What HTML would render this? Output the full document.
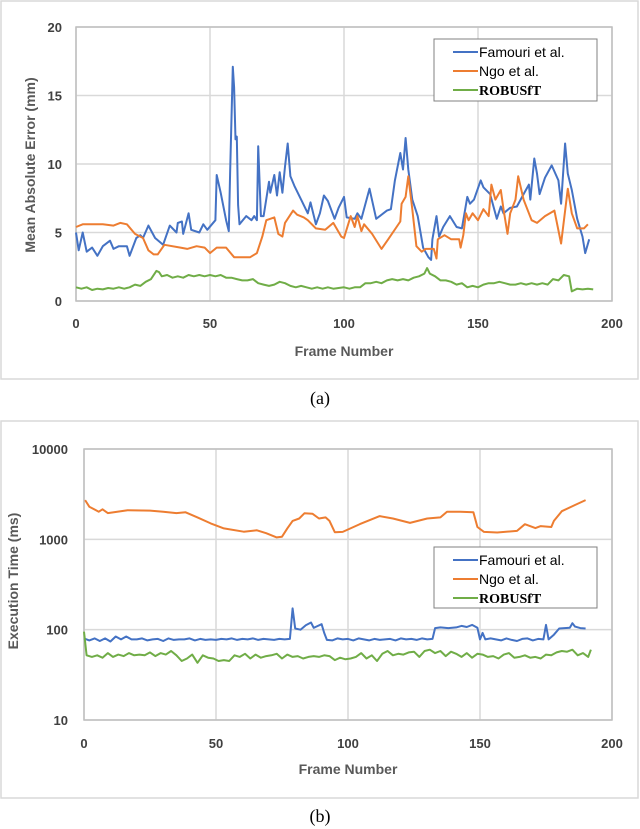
<!DOCTYPE html>
<html><head><meta charset="utf-8"><style>
html,body{margin:0;padding:0;background:#fff;}
svg{display:block;font-family:"Liberation Sans",sans-serif;}
.tk{font-size:13px;fill:#404040;font-weight:bold;}
.ttl{font-size:14px;fill:#595959;font-weight:bold;}
.lg{font-size:14px;fill:#000;}
.cap{font-family:"Liberation Serif",serif;font-size:18px;fill:#000;}
</style></head><body>
<svg id="c" width="640" height="829" viewBox="0 0 640 829" xmlns="http://www.w3.org/2000/svg">
<rect x="1" y="1" width="637" height="378" fill="#fff" stroke="#d9d9d9" stroke-width="1.5"/>
<rect x="1" y="421" width="637" height="377" fill="#fff" stroke="#d9d9d9" stroke-width="1.5"/>
<g id="ga"></g>
<g id="gb"></g>
<text x="30" y="170" class="ttl" text-anchor="middle" transform="rotate(-90 30 165)">Mean Absolute Error (mm)</text>
<text x="344" y="356" class="ttl" text-anchor="middle">Frame Number</text>
<text x="320" y="404" class="cap" text-anchor="middle">(a)</text>
<text x="22" y="585" class="ttl" text-anchor="middle" transform="rotate(-90 18 585)">Execution Time (ms)</text>
<text x="348" y="774" class="ttl" text-anchor="middle">Frame Number</text>
<text x="320" y="822" class="cap" text-anchor="middle">(b)</text>
</svg>
<script>
const seriesNames=["Famouri et al.","Ngo et al.","ROBUSfT"];
const colors=["#4472C4","#ED7D31","#70AD47"];
const aTicksY=[0,5,10,15,20];
const xTicks=[0,50,100,150,200];
const bTicksY=[10,100,1000,10000];
const aBlueX=[0,1,2.5,4,6,8,10,12.7,14,16,19,20,22.5,24,25,27,29.5,32.5,35,37.5,38,39.5,40,42,43,46,47.5,49,52,52.5,54,56,57,57.5,58.5,59,59.5,60,60.5,61,63.5,65.5,66.5,67.5,68,69,70,72,72.5,74,75,76,77,78,79,80,81.5,84,86.5,87.5,89.5,91,92.5,94,96.5,98,100,101,104,105,106.5,109.5,112,116,117.5,119,121,122,123,124,125.5,127.5,129.5,131.5,132.5,133,134.5,135.5,137,139.5,142,144,146,147,148.5,151,152,154.5,157,158.5,159.5,162,164.5,167,169,169.5,171,172,173,175,177.5,180,181,182.5,183.5,185,187,189,190,191.5];
const aBlueY=[5.0,3.7,5.0,3.6,3.9,3.3,4.0,4.4,3.8,4.0,4.0,3.3,4.6,4.8,4.6,5.5,4.6,4.1,5.5,5.0,5.7,5.8,4.9,6.4,5.2,5.0,5.6,5.2,5.9,9.2,7.9,5.9,5.1,9.3,17.1,15.6,11.8,12,7.0,5.6,6.2,5.9,6.2,5.9,11.3,6.2,6.2,8.7,7.9,9.2,7.7,9.4,7.9,9.8,11.5,9.1,8.4,7.4,6.4,7.2,5.6,6.4,7.7,7.3,6.0,6.8,7.6,6.1,6.0,6.4,6.0,8.2,6.0,6.6,6.7,8.8,10.8,9.6,11.9,9.6,7.4,6.2,3.9,3.2,3.0,4.5,6.2,4.7,5.4,6.2,5.4,5.3,7.6,7.1,7.4,8.8,8.3,7.8,6.0,6.9,6.4,6.8,6.9,7.8,8.5,7.4,10.4,9.3,7.8,9.0,9.9,8.8,7.1,11.5,9.3,8.1,6.0,4.7,3.5,4.5];
const aOrX=[0,2.5,10,14,16.5,19,22,25,27,29,30.5,33,39,41.5,45,48,50,52.5,56,59,65,67.5,69.5,71,74,75.5,77,78,81,82.5,85,86.5,89.5,93,96,99,100,102.5,104,105,106.5,107.5,110.5,114,116.5,121,121.5,123,124,125.5,127,129,130.5,133.5,134.5,135,137.5,140,143,143.5,144.5,145.5,146.5,148,150,152,154,155,156.5,158.5,159.5,161,162,164,165,167,170,172,175,178.5,181,183.5,185,187,189.5,191];
const aOrY=[5.4,5.6,5.6,5.5,5.7,5.6,4.9,4.6,3.7,3.4,3.4,4.1,3.9,3.8,4.0,3.9,3.5,3.9,3.9,3.2,3.2,3.5,4.7,5.9,6.1,4.9,4.7,5.7,6.6,6.3,6.1,5.9,5.3,5.2,5.7,4.7,4.6,6.2,5.4,6.2,5.1,5.6,4.9,3.8,4.5,5.8,7.1,7.6,9.1,6.7,4.0,3.6,3.8,3.8,3.1,4.5,4.8,4.5,4.5,3.9,4.8,6.4,5.9,6.4,5.9,6.7,6.2,8.5,7.4,8.1,6.7,4.9,6.4,7.4,9.1,7.4,5.9,5.7,6.2,6.6,4.2,8.2,6.4,5.3,5.3,5.6];
const aGrX=[0,2,4,6,8,10,12,14,16,18,20,22,24,26,28,30,31,32,34,36,38,40,42,44,46,48,50,52,54,56,58,60,62,64,66,68,70,72,74,76,78,80,82,84,86,88,90,92,94,96,98,100,102,104,106,108,110,112,114,116,118,120,122,124,126,128,130,131,132,134,136,138,140,142,144,146,148,150,152,154,156,158,160,162,164,166,168,170,172,174,176,178,180,182,184,185,187,189,191,193];
const aGrY=[1.0,0.9,1.0,0.8,0.9,0.85,0.95,0.9,1.0,0.9,1.0,1.2,1.1,1.4,1.6,2.2,2.1,1.8,1.9,1.7,1.8,1.7,1.9,1.8,1.9,1.8,1.9,1.8,1.9,1.7,1.7,1.6,1.5,1.5,1.6,1.3,1.2,1.1,1.2,1.4,1.3,1.1,1.0,1.1,1.0,0.9,1.0,0.9,1.0,0.9,0.95,1.0,0.9,1.0,1.0,1.3,1.3,1.4,1.3,1.5,1.6,1.5,1.6,1.5,1.7,1.8,2.0,2.4,2.0,1.8,1.5,1.5,1.4,1.2,1.3,1.0,1.1,1.0,1.2,1.3,1.3,1.4,1.3,1.2,1.2,1.3,1.2,1.3,1.2,1.3,1.2,1.6,1.5,1.9,1.8,0.7,0.9,0.85,0.9,0.85];
const bOrX=[0.4,2,5.6,7,9,16.5,25,30,35,38.5,43,48,53,60.5,65.5,69,73,75,77,79,81.5,83.5,86.5,89,91.5,93,95,98,104.5,112,117,123.5,130,135,137.5,142.5,147.5,149,151.5,156.5,164,167,171,173,177,178,181,186,190];
const bOrY=[2720,2300,2020,2150,1950,2100,2080,2020,1950,1990,1750,1500,1320,1215,1260,1170,1050,1070,1320,1600,1700,1940,1920,1700,1750,1600,1200,1210,1475,1810,1700,1520,1700,1750,2020,2020,1990,1370,1210,1190,1240,1470,1330,1400,1370,1600,2050,2400,2720];
const bBlX=[0,2,4,6,8,10,12,14,16,18,20,22,24,26,28,30,32,34,36,38,40,42,44,46,48,50,52,54,56,58,60,62,64,66,68,70,72,74,76,78,79,80,82,84,86,87,88,90,91,92,94,96,98,100,102,104,106,108,110,112,114,116,118,120,122,124,126,128,130,132,133,135,138,141,143,145,147,149,150,151,152,154,156,158,160,162,164,166,168,170,172,174,175,176,178,180,182,184,185,186,188,190];
const bBlY=[80,76,80,75,80,74,84,78,84,78,78,80,76,78,79,75,80,77,78,78,80,76,79,77,78,77,79,78,80,77,79,78,80,77,79,78,77,79,78,79,172,103,100,112,120,105,108,115,92,77,76,80,78,79,76,80,78,76,79,77,78,79,76,80,78,79,77,80,78,79,104,106,104,106,110,107,113,105,78,92,78,80,78,76,80,77,75,79,80,76,79,78,113,78,88,103,104,105,118,108,104,103];
const bGrX=[0,1,3,5,7,9,11,13,15,17,19,21,23,25,27,29,31,33,35,37,39,41,43,45,47,49,51,53,55,57,59,61,63,65,67,69,71,73,75,77,79,81,83,85,87,89,91,93,95,97,99,101,103,105,107,109,111,113,115,117,119,121,123,125,127,129,131,133,135,137,139,141,143,145,147,149,151,153,155,157,159,161,163,165,167,169,171,173,175,177,179,181,183,185,187,189,191,192];
const bGrY=[95,52,50,52,49,55,50,53,51,55,52,53,52,56,51,55,53,58,52,45,48,53,43,52,49,48,45,46,45,52,50,54,48,53,49,51,52,54,48,53,50,51,48,50,51,50,52,51,46,49,47,48,50,55,48,52,45,54,58,52,54,53,56,57,50,58,60,55,58,51,57,54,50,55,49,54,53,50,51,48,53,55,49,50,52,49,50,48,53,52,56,58,57,60,52,55,50,60];

const NS="http://www.w3.org/2000/svg";
function mk(tag,attrs,parent,text){const e=document.createElementNS(NS,tag);for(const k in attrs)e.setAttribute(k,attrs[k]);if(text!==undefined)e.textContent=text;parent.appendChild(e);return e;}
// chart a scales
const A={l:76,r:612,t:27,b:301};
const axA=f=>A.l+(f/200)*(A.r-A.l);
const ayA=v=>A.b-(v/20)*(A.b-A.t);
const B={l:84,r:612,t:449,b:720};
const axB=f=>B.l+(f/200)*(B.r-B.l);
const ayB=v=>B.b-((Math.log10(v)-1)/3)*(B.b-B.t);

function drawChart(g,P,ax,ay,yt,series,legend,tickFmtX,tyOff,txY){
  const grid=mk('g',{},g);
  
  
  yt.forEach(v=>{const y=ay(v);
    const ln=mk('line',{x1:P.l,x2:P.r,y1:y,y2:y,stroke:'#d9d9d9','stroke-width':1.5},grid);
    
    
    const t=mk('text',{x:P.l-tyOff,y:y+5,class:'tk','text-anchor':'end'},g,String(v));
    
    
  });
  xTicks.forEach(f=>{const x=ax(f);
    const ln=mk('line',{x1:x,x2:x,y1:P.t,y2:P.b,stroke:'#d9d9d9','stroke-width':1.5},grid);
    
    
    const t=mk('text',{x:x,y:txY,class:'tk','text-anchor':'middle'},g,String(f));
    
    
  });
  const fr=mk('rect',{x:P.l,y:P.t,width:P.r-P.l,height:P.b-P.t,fill:'none',stroke:'#bfbfbf','stroke-width':1.5},g);
  
  
  series.forEach((s,i)=>{
    const d=s[0].map((f,j)=>(j?'L':'M')+ax(f).toFixed(1)+' '+ay(s[1][j]).toFixed(1)).join(' ');
    const p=mk('path',{d:d,fill:'none',stroke:colors[i],'stroke-width':2,'stroke-linejoin':'round'},g);
    
    
  });
  const lg=mk('g',{},g);
  
  
  mk('rect',{x:legend.x,y:legend.y,width:legend.w,height:legend.h,fill:'#fff',stroke:'#808080','stroke-width':1},lg);
  seriesNames.forEach((n,i)=>{const yy=legend.y+13+i*19;
    const en=mk('g',{},lg);
    
    
    mk('line',{x1:legend.x+19,x2:legend.x+44,y1:yy,y2:yy,stroke:colors[i],'stroke-width':2},en);
    mk('text',{x:legend.x+45,y:yy+5,class:'lg',style:i==2?'font-family:Liberation Serif,serif;font-weight:bold;font-size:14px':''},en,n);
  });
}
drawChart(document.getElementById('ga'),A,axA,ayA,aTicksY,[[aBlueX,aBlueY],[aOrX,aOrY],[aGrX,aGrY]],{x:434,y:39,w:163,h:62},null,14,328);
drawChart(document.getElementById('gb'),B,axB,ayB,bTicksY,[[bBlX,bBlY],[bOrX,bOrY],[bGrX,bGrY]],{x:434,y:547,w:163,h:61},null,16,748);
</script>
</body></html>
